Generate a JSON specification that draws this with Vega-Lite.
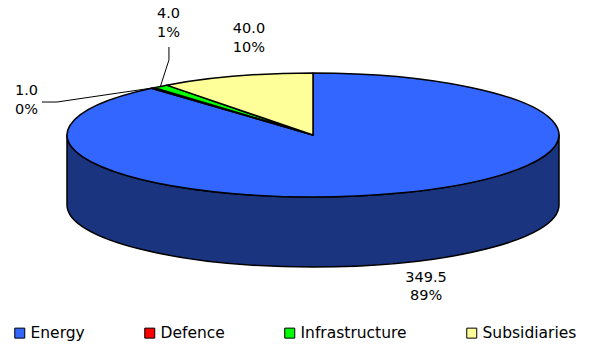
{
  "$schema": "https://vega.github.io/schema/vega-lite/v6.json",
  "width": 592,
  "height": 345,
  "autosize": {"type": "fit", "contains": "padding"},
  "padding": 0,
  "background": "white",
  "config": {"view": {"stroke": null}, "font": "DejaVu Sans"},
  "data": {
    "values": [
      {"sector": "Energy", "value": 349.5},
      {"sector": "Defence", "value": 1.0},
      {"sector": "Infrastructure", "value": 4.0},
      {"sector": "Subsidiaries", "value": 40.0}
    ]
  },
  "transform": [
    {"joinaggregate": [{"op": "sum", "field": "value", "as": "total"}]},
    {"window": [{"op": "sum", "field": "value", "as": "cum"}], "frame": [null, 0]},
    {"calculate": "2*PI*datum.cum/datum.total", "as": "a1"},
    {"calculate": "datum.a1 - 2*PI*datum.value/datum.total", "as": "a0"},
    {"calculate": "(datum.a0 + datum.a1)/2", "as": "am"},
    {"calculate": "format(datum.value, '.1f') + '\\n' + format(datum.value/datum.total, '.0%')", "as": "label"},
    {"calculate": "round(100000*sin(datum.a0))/100000", "as": "x0"},
    {"calculate": "round(-25203*cos(datum.a0))/100000", "as": "y0"},
    {"calculate": "round(100000*sin(datum.a1))/100000", "as": "x1"},
    {"calculate": "round(-25203*cos(datum.a1))/100000", "as": "y1"},
    {"calculate": "'M0 0 L' + datum.x0 + ' ' + datum.y0 + ' A1 0.25203 0 ' + (datum.a1 - datum.a0 > PI ? 1 : 0) + ' 1 ' + datum.x1 + ' ' + datum.y1 + ' Z'", "as": "topPath"},
    {"calculate": "max(datum.a0, PI/2)", "as": "b0"},
    {"calculate": "min(datum.a1, 3*PI/2)", "as": "b1"},
    {"calculate": "round(100000*sin(datum.b0))/100000", "as": "u0"},
    {"calculate": "round(-25203*cos(datum.b0))/100000", "as": "v0"},
    {"calculate": "round(100000*sin(datum.b1))/100000", "as": "u1"},
    {"calculate": "round(-25203*cos(datum.b1))/100000", "as": "v1"},
    {"calculate": "'M' + datum.u0 + ' ' + datum.v0 + ' A1 0.25203 0 0 1 ' + datum.u1 + ' ' + datum.v1 + ' L' + datum.u1 + ' ' + round(100000*(datum.v1 + 0.28455))/100000 + ' A1 0.25203 0 0 0 ' + datum.u0 + ' ' + round(100000*(datum.v0 + 0.28455))/100000 + ' Z'", "as": "sidePath"},
    {"calculate": "246*sin(datum.am)", "as": "mx"},
    {"calculate": "-62*cos(datum.am)", "as": "my"}
  ],
  "layer": [
    {
      "transform": [{"filter": "datum.b1 > datum.b0"}],
      "mark": {"type": "point", "filled": true, "opacity": 1, "size": 242064, "stroke": "black", "strokeWidth": 1.5, "strokeJoin": "round"},
      "encoding": {
        "x": {"datum": 0, "type": "quantitative", "scale": {"domain": [-313, 279], "nice": false, "zero": false}, "axis": null},
        "y": {"datum": 0, "type": "quantitative", "scale": {"domain": [-135, 210], "reverse": true, "nice": false, "zero": false}, "axis": null},
        "shape": {"field": "sidePath", "type": "nominal", "scale": null},
        "color": {
          "field": "sector", "type": "nominal",
          "scale": {"domain": ["Energy", "Defence", "Infrastructure", "Subsidiaries"], "range": ["#1a347f", "#800000", "#008000", "#80804c"]},
          "legend": null
        }
      }
    },
    {
      "mark": {"type": "point", "filled": true, "opacity": 1, "size": 242064, "stroke": "black", "strokeWidth": 1.5, "strokeJoin": "round"},
      "encoding": {
        "x": {"datum": 0, "type": "quantitative"},
        "y": {"datum": 0, "type": "quantitative"},
        "shape": {"field": "topPath", "type": "nominal", "scale": null},
        "color": {
          "field": "sector", "type": "nominal",
          "scale": {"domain": ["Energy", "Defence", "Infrastructure", "Subsidiaries"], "range": ["#3366ff", "#ff0000", "#00ff00", "#ffff99"]},
          "legend": {
            "orient": "none", "legendX": 12, "legendY": 325, "direction": "horizontal", "title": null,
            "symbolType": "square", "symbolSize": 100, "symbolStrokeColor": "black", "symbolStrokeWidth": 1, "symbolOpacity": 1,
            "labelFontSize": 15.5, "labelFont": "DejaVu Sans", "labelColor": "black", "labelOffset": 3,
            "columnPadding": 57, "padding": 0
          }
        }
      }
    },
    {
      "transform": [
        {"filter": "datum.sector == 'Defence' || datum.sector == 'Infrastructure'"},
        {"calculate": "datum.mx + (datum.sector == 'Defence' ? -95.9 : 8.5)", "as": "ex"},
        {"calculate": "datum.my + (datum.sector == 'Defence' ? 14.1 : -26.4)", "as": "ey"},
        {"calculate": "datum.ex + (datum.sector == 'Defence' ? -15 : 0)", "as": "fx"},
        {"calculate": "datum.ey + (datum.sector == 'Defence' ? 0 : -13)", "as": "fy"}
      ],
      "layer": [
        {
          "mark": {"type": "rule", "color": "black", "strokeWidth": 1},
          "encoding": {
            "x": {"field": "mx", "type": "quantitative"},
            "y": {"field": "my", "type": "quantitative"},
            "x2": {"field": "ex"},
            "y2": {"field": "ey"}
          }
        },
        {
          "mark": {"type": "rule", "color": "black", "strokeWidth": 1},
          "encoding": {
            "x": {"field": "ex", "type": "quantitative"},
            "y": {"field": "ey", "type": "quantitative"},
            "x2": {"field": "fx"},
            "y2": {"field": "fy"}
          }
        }
      ]
    },
    {
      "transform": [{"filter": "datum.sector == 'Energy'"}],
      "mark": {"type": "text", "font": "DejaVu Sans", "fontSize": 14.5, "lineBreak": "\n", "lineHeight": 18.5, "align": "center", "baseline": "middle", "color": "black", "dx": 26.8, "dy": 84.9},
      "encoding": {"x": {"field": "mx", "type": "quantitative"}, "y": {"field": "my", "type": "quantitative"}, "text": {"field": "label"}}
    },
    {
      "transform": [{"filter": "datum.sector == 'Subsidiaries'"}],
      "mark": {"type": "text", "font": "DejaVu Sans", "fontSize": 14.5, "lineBreak": "\n", "lineHeight": 19, "align": "center", "baseline": "middle", "color": "black", "dx": 13, "dy": -47.1},
      "encoding": {"x": {"field": "mx", "type": "quantitative"}, "y": {"field": "my", "type": "quantitative"}, "text": {"field": "label"}}
    },
    {
      "transform": [{"filter": "datum.sector == 'Infrastructure'"}],
      "mark": {"type": "text", "font": "DejaVu Sans", "fontSize": 14.5, "lineBreak": "\n", "lineHeight": 19, "align": "center", "baseline": "middle", "color": "black", "dx": 8, "dy": -72.4},
      "encoding": {"x": {"field": "mx", "type": "quantitative"}, "y": {"field": "my", "type": "quantitative"}, "text": {"field": "label"}}
    },
    {
      "transform": [{"filter": "datum.sector == 'Defence'"}],
      "mark": {"type": "text", "font": "DejaVu Sans", "fontSize": 14.5, "lineBreak": "\n", "lineHeight": 19, "align": "center", "baseline": "middle", "color": "black", "dx": -126.4, "dy": 3.1},
      "encoding": {"x": {"field": "mx", "type": "quantitative"}, "y": {"field": "my", "type": "quantitative"}, "text": {"field": "label"}}
    }
  ],
  "resolve": {"scale": {"color": "independent"}}
}
